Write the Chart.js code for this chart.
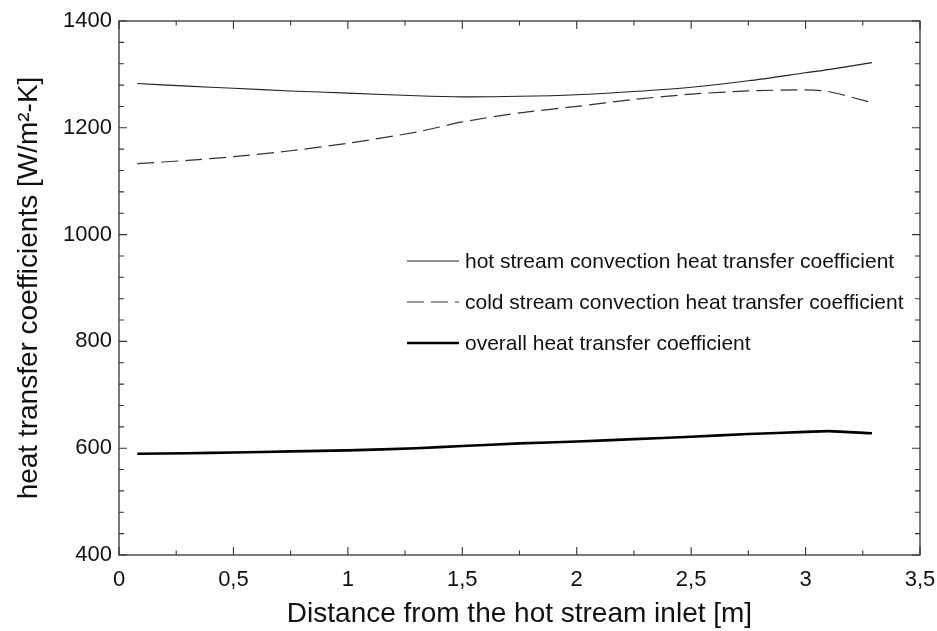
<!DOCTYPE html>
<html>
<head>
<meta charset="utf-8">
<script src="https://cdn.jsdelivr.net/npm/chart.js@4"></script>
<style>
  html, body { margin: 0; padding: 0; background: #fff; }
  #wrap { width: 937px; height: 631px; }
</style>
</head>
<body>
<div id="wrap"><canvas id="myChart"></canvas></div>
<script>
// Datos
const distancias = [0.08, 0.3, 0.5, 0.75, 1.0, 1.3, 1.5, 1.75, 2.0, 2.25, 2.5, 2.75, 3.0, 3.1, 3.29];
const hotStream = [1283, 1278, 1274, 1269, 1265, 1260, 1258, 1259, 1262, 1268, 1276, 1288, 1303, 1309, 1322];
const coldStream = [1133, 1139, 1146, 1157, 1171, 1192, 1211, 1228, 1240, 1253, 1263, 1269, 1271, 1268, 1247];
const overall = [589.7, 590.5, 592, 594, 596, 600, 604, 609, 612.5, 617, 621.5, 626.5, 630.5, 632, 628];

const xTickLabels = ['0', '0,5', '1', '1,5', '2', '2,5', '3', '3,5'];
const yTickLabels = ['400', '600', '800', '1000', '1200', '1400'];

const seriesLabels = [
    'hot stream convection heat transfer coefficient',
    'cold stream convection heat transfer coefficient',
    'overall heat transfer coefficient'
];

const FONT = '"Liberation Sans", Arial, sans-serif';

function puntos(ys) {
    return distancias.map((x, i) => ({ x: x, y: ys[i] }));
}

// Marco y marcas hacia adentro en los cuatro lados
const marcoPlugin = {
    id: 'marco',
    afterDraw(chart) {
        const ctx = chart.ctx;
        const a = chart.chartArea;
        const xs = chart.scales.x;
        const ys = chart.scales.y;
        ctx.save();
        ctx.strokeStyle = '#333';
        ctx.lineWidth = 1.3;
        ctx.strokeRect(a.left, a.top, a.right - a.left, a.bottom - a.top);
        ctx.lineWidth = 1.1;
        ctx.beginPath();
        for (let v = 0; v <= 3.5 + 1e-9; v += 0.25) {
            const px = xs.getPixelForValue(v);
            const len = Math.abs(v / 0.5 - Math.round(v / 0.5)) < 1e-6 ? 8 : 4.5;
            ctx.moveTo(px, a.bottom); ctx.lineTo(px, a.bottom - len);
            ctx.moveTo(px, a.top); ctx.lineTo(px, a.top + len);
        }
        for (let v = 400; v <= 1400; v += 40) {
            const py = ys.getPixelForValue(v);
            const len = v % 200 === 0 ? 8 : 5;
            ctx.moveTo(a.left, py); ctx.lineTo(a.left + len, py);
            ctx.moveTo(a.right, py); ctx.lineTo(a.right - len, py);
        }
        ctx.stroke();
        ctx.restore();
    }
};

// Leyenda dentro del area del grafico
const leyendaPlugin = {
    id: 'leyenda',
    afterDraw(chart) {
        const ctx = chart.ctx;
        ctx.save();
        ctx.font = '21px ' + FONT;
        ctx.textBaseline = 'middle';
        ctx.fillStyle = '#111';
        chart.data.datasets.forEach((ds, i) => {
            const y = 261 + i * 41;
            ctx.strokeStyle = ds.borderColor;
            ctx.lineWidth = ds.borderWidth;
            ctx.setLineDash(ds.borderDash || []);
            ctx.beginPath();
            ctx.moveTo(407, y);
            ctx.lineTo(459, y);
            ctx.stroke();
            ctx.setLineDash([]);
            ctx.fillText(ds.label, 465, y + 1);
        });
        ctx.restore();
    }
};

const myChart = new Chart(document.getElementById('myChart'), {
    type: 'line',
    data: {
        datasets: [
            {
                label: seriesLabels[0],
                data: puntos(hotStream),
                borderColor: '#222',
                borderWidth: 1.1,
                pointRadius: 0,
                tension: 0.25,
                fill: false
            },
            {
                label: seriesLabels[1],
                data: puntos(coldStream),
                borderColor: '#333',
                borderWidth: 1.2,
                borderDash: [17, 7],
                pointRadius: 0,
                tension: 0.25,
                fill: false
            },
            {
                label: seriesLabels[2],
                data: puntos(overall),
                borderColor: '#000',
                borderWidth: 2.6,
                pointRadius: 0,
                tension: 0.25,
                fill: false
            }
        ]
    },
    options: {
        responsive: true,
        maintainAspectRatio: false,
        animation: false,
        layout: { padding: { top: 21, right: 17, left: 0, bottom: 0 } },
        plugins: {
            legend: { display: false },
            tooltip: { enabled: false }
        },
        scales: {
            x: {
                type: 'linear',
                min: 0,
                max: 3.5,
                afterFit: (s) => {
                    s.height = 76;
                    s.paddingLeft = 0;
                    s.paddingRight = 0;
                },
                grid: { display: false, drawTicks: false },
                border: { display: false },
                ticks: {
                    stepSize: 0.5,
                    padding: 12,
                    color: '#111',
                    font: { family: FONT, size: 22 },
                    maxRotation: 0,
                    callback: (v, i) => xTickLabels[i]
                },
                title: {
                    display: true,
                    text: 'Distance from the hot stream inlet [m]',
                    color: '#111',
                    font: { family: FONT, size: 28 },
                    padding: { top: 0, bottom: 0 }
                }
            },
            y: {
                min: 400,
                max: 1400,
                afterFit: (s) => {
                    s.width = 119;
                    s.paddingTop = 0;
                    s.paddingBottom = 0;
                },
                grid: { display: false, drawTicks: false },
                border: { display: false },
                ticks: {
                    stepSize: 200,
                    padding: 7,
                    color: '#111',
                    font: { family: FONT, size: 22 },
                    callback: (v, i) => yTickLabels[i]
                },
                title: {
                    display: true,
                    text: 'heat transfer coefficients [W/m\u00B2-K]',
                    color: '#111',
                    font: { family: FONT, size: 28 },
                    padding: { top: 12, bottom: 0 }
                }
            }
        }
    },
    plugins: [marcoPlugin, leyendaPlugin]
});
</script>
</body>
</html>
